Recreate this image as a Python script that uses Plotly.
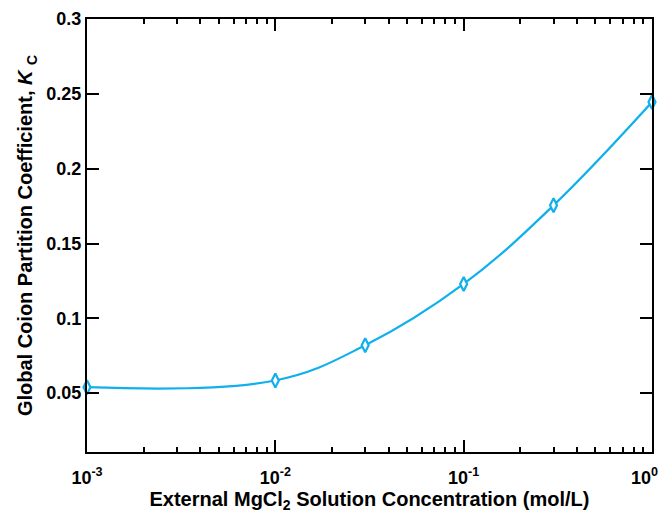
import plotly.graph_objects as go

conc = [0.001, 0.01, 0.03, 0.1, 0.3, 1.0]
kc = [0.054, 0.0585, 0.082, 0.123, 0.1755, 0.2445]

x_tickvals = [0.001, 0.01, 0.1, 1]
x_ticktext = ["10<sup>-3</sup>", "10<sup>-2</sup>", "10<sup>-1</sup>",
              "10<sup>0</sup>\u00a0\u00a0\u00a0"]
x_minor = [m * d for d in [0.001, 0.01, 0.1] for m in range(2, 10)]
y_tickvals = [0.05, 0.1, 0.15, 0.2, 0.25, 0.3]
y_ticktext = ["0.05", "0.1", "0.15", "0.2", "0.25", "0.3"]

color = "#10b0ec"
font = "Liberation Sans, Arial, sans-serif"

fig = go.Figure()
fig.add_trace(go.Scatter(
    x=conc, y=kc, mode="lines+markers",
    line=dict(color=color, width=2.2, shape="spline", smoothing=1.1),
    marker=dict(symbol="diamond-tall", size=10, color="white", line=dict(width=2.2, color=color)),
    cliponaxis=False, showlegend=False,
))

# page body has an 8px margin; figure sized so the page does not overflow
fig.update_layout(
    width=659, height=507,
    margin=dict(l=79, r=15, t=11, b=63),
    paper_bgcolor="white", plot_bgcolor="white",
    font=dict(family=font, color="black", size=18),
)
fig.update_xaxes(
    type="log", range=[-3, 0], automargin=False,
    tickvals=x_tickvals, ticktext=["<b>%s</b>" % t for t in x_ticktext],
    ticks="inside", ticklen=12, tickwidth=1.5, tickcolor="black",
    ticklabelstandoff=8, ticklabeloverflow="allow",
    minor=dict(tickvals=x_minor, ticks="inside", ticklen=5, tickwidth=1.5, tickcolor="black"),
    showline=True, linecolor="black", linewidth=2, mirror="ticks",
    showgrid=False, zeroline=False,
    tickfont=dict(family=font, size=18, color="black"),
    title=dict(text="<b>External MgCl<sub>2</sub> Solution Concentration (mol/L)</b>",
               font=dict(family=font, size=20, color="black"), standoff=1),
)
fig.update_yaxes(
    range=[0.0107, 0.3], automargin=False,
    tickvals=y_tickvals, ticktext=["<b>%s</b>" % t for t in y_ticktext],
    ticks="inside", ticklen=12, tickwidth=1.5, tickcolor="black",
    showline=True, linecolor="black", linewidth=2, mirror="ticks",
    showgrid=False, zeroline=False,
    tickfont=dict(family=font, size=18, color="black"),
    title=dict(text="<b>Global Coion Partition Coefficient, <i>K</i> <sub>C</sub></b>",
               font=dict(family=font, size=20, color="black"), standoff=8),
)

fig.write_html("out.html")
